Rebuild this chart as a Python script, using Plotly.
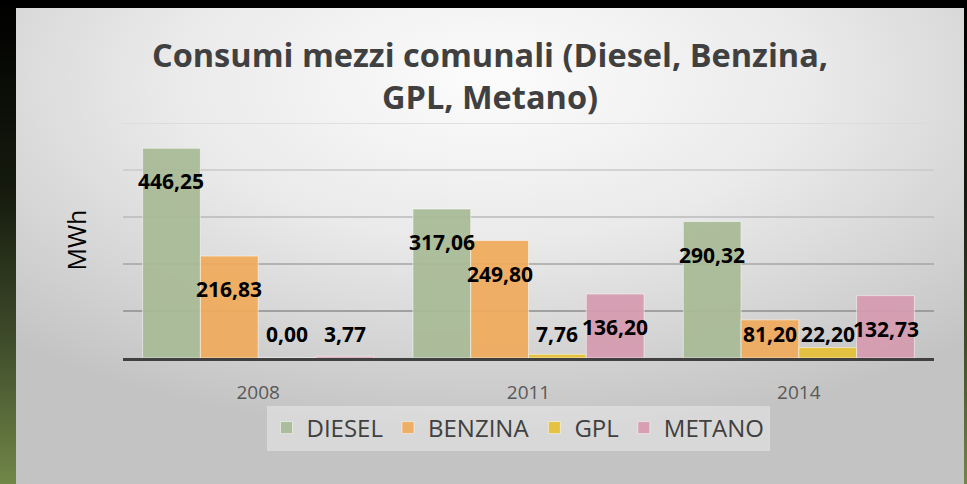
import base64
import plotly.graph_objects as go

# ---- data ----
categories = ["2008", "2011", "2014"]
series_names = ["DIESEL", "BENZINA", "GPL", "METANO"]
diesel = [446.25, 317.06, 290.32]
benzina = [216.83, 249.80, 81.20]
gpl = [0.00, 7.76, 22.20]
metano = [3.77, 136.20, 132.73]
grid_values = [100, 200, 300, 400, 500]

values = [diesel, benzina, gpl, metano]
colors = ["#a9bb97", "#f0ab5c", "#e6c136", "#d69bb0"]
grid_colors = ["#8e8e8e", "#a4a4a4", "#bababa", "#cacaca", "#d8d8d8"]

W, H = 967, 484
L, R, T, B = 123, 33, 123, 126
PW, PH = W - L - R, H - T - B

fig = go.Figure()
for name, vals, col in zip(series_names, values, colors):
    fig.add_trace(go.Bar(
        name=name, x=categories, y=vals,
        marker=dict(color=col, line=dict(color="rgba(255,255,255,0.55)", width=1)),
        opacity=0.93, hoverinfo="x+y+name",
    ))

# data labels (x given as category index on the category axis)
annotations = []
bar_px = PW / 3 * (1 - 0.145) / 4
for i, vals in enumerate(values):
    for j, v in enumerate(vals):
        txt = f"{v:.2f}".replace(".", ",")
        if v > 110:
            y, ys = v, -33
        else:
            y, ys = 0, 24
        annotations.append(dict(
            x=j, y=y, xref="x", yref="y", text=txt, showarrow=False,
            xshift=(i - 1.5) * bar_px, yshift=ys, yanchor="middle", xanchor="center",
            font=dict(family="Open Sans", size=21, color="#000000", weight="bold"),
        ))

annotations.append(dict(
    x=(75 - L) / PW, y=0.5, xref="paper", yref="paper", text="MWh", textangle=-90,
    xanchor="center", yanchor="middle",
    showarrow=False, font=dict(family="Open Sans", size=25, color="#000000"),
))

shapes = []
for gv, gc in zip(grid_values, grid_colors):
    shapes.append(dict(type="line", xref="paper", yref="y", x0=0, x1=1, y0=gv, y1=gv,
                       line=dict(color=gc, width=1.3), layer="below"))

svg = f'''<svg xmlns="http://www.w3.org/2000/svg" width="{W}" height="{H}" viewBox="0 0 {W} {H}" preserveAspectRatio="none">
<defs>
<linearGradient id="strip" x1="0" y1="0" x2="0" y2="1">
<stop offset="0" stop-color="#000000"/><stop offset="0.4" stop-color="#161b0e"/>
<stop offset="0.7" stop-color="#3e4b2a"/><stop offset="1" stop-color="#718748"/>
</linearGradient>
<radialGradient id="card" cx="0.5" cy="0.15" r="0.75" fx="0.5" fy="0.15">
<stop offset="0" stop-color="#fcfcfc"/><stop offset="0.45" stop-color="#eaeaea"/>
<stop offset="1" stop-color="#c3c3c3"/>
</radialGradient>
</defs>
<rect x="0" y="0" width="{W}" height="{H}" fill="#000000"/>
<rect x="0" y="0" width="16" height="{H}" fill="url(#strip)"/>
<rect x="{W-3}" y="8" width="3" height="{H-8}" fill="url(#strip)"/>
<rect x="16" y="8" width="{W-19}" height="{H-8}" fill="url(#card)"/>
</svg>'''
src = "data:image/svg+xml;base64," + base64.b64encode(svg.encode()).decode()

fig.update_layout(
    width=W, height=H,
    margin=dict(l=L, r=R, t=T, b=B, pad=0),
    barmode="group", bargap=0.145, bargroupgap=0,
    paper_bgcolor="#000000", plot_bgcolor="rgba(0,0,0,0)",
    title=dict(
        text="Consumi mezzi comunali (Diesel, Benzina,<br>GPL, Metano)",
        x=490 / W, xanchor="center", y=1 - 67 / H, yanchor="middle",
        font=dict(family="Open Sans", size=32.5, color="#404040", weight="bold"),
    ),
    xaxis=dict(
        type="category", range=[-0.5, 2.5], autorange=False,
        showline=True, linecolor="#404040", linewidth=3, showgrid=False,
        tickfont=dict(family="Open Sans", size=19, color="#595959"),
        ticks="", ticklabelstandoff=15,
    ),
    yaxis=dict(range=[0, 500], autorange=False, showgrid=False, showticklabels=False,
               zeroline=False, showline=False),
    legend=dict(
        orientation="h", x=(518 - L) / PW, xanchor="center", y=-(428 - 358) / PH, yanchor="middle",
        bgcolor="rgba(255,255,255,0.35)", font=dict(family="Open Sans", size=24, color="#404040"),
        itemwidth=30, traceorder="normal",
    ),
    annotations=annotations, shapes=shapes,
    images=[dict(source=src, xref="paper", yref="paper", x=-L / PW, y=1 + T / PH,
                 sizex=W / PW, sizey=H / PH, sizing="stretch", layer="below",
                 xanchor="left", yanchor="top")],
    showlegend=True,
)

fig.write_html("out.html", config={"displayModeBar": False},
               post_script="document.body.style.margin='0';")
